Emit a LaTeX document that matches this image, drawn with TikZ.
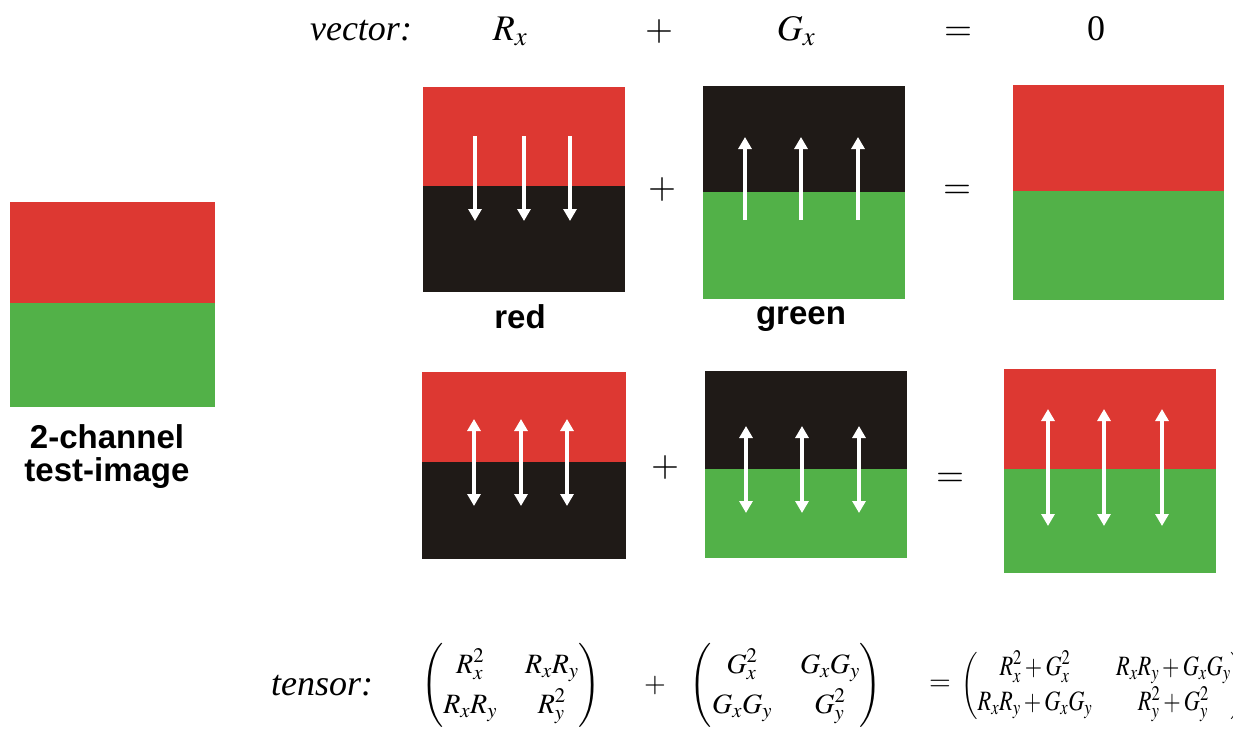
\documentclass[tikz,border=0pt]{standalone}
\usepackage{mathptmx}
\usepackage{amsmath}
\usepackage{graphicx}
\usepackage{fontspec}
\setmainfont{Liberation Serif}
\setsansfont{Liberation Sans}
\usetikzlibrary{arrows.meta}
\definecolor{pred}{HTML}{DD3832}
\definecolor{pgreen}{HTML}{52B148}
\definecolor{pblack}{HTML}{1F1A17}
\tikzset{
  lbl/.style={font=\sffamily\bfseries\fontsize{33}{38}\selectfont, anchor=base, inner sep=0pt},
  ser/.style={font=\fontsize{36}{40}\selectfont, anchor=base, inner sep=0pt},
  ten/.style={font=\fontsize{28}{32}\selectfont, inner sep=0pt},
  warr/.style={white, line width=3.2pt, -{Triangle[width=13pt,length=12pt]}},
  darr/.style={white, line width=3.2pt, {Triangle[width=13pt,length=12pt]}-{Triangle[width=13pt,length=12pt]}}
}
\begin{document}
\begin{tikzpicture}[x=1pt,y=-1pt]
\useasboundingbox (0,0) rectangle (1233,728);
% test image
\fill[pred] (10,202) rectangle (215,303);
\fill[pgreen] (10,303) rectangle (215,407);
\node[lbl] (t1) at (107,448) {2-channel};
\node[lbl] (t2) at (107,481) {test-image};
% top row
\node[ser] (vec) at (361,40) {\textit{vector:}};
\node[ser] (rx) at (510,40) {$R_x$};
\node[ser] (p0) at (659,40) {$+$};
\node[ser] (gx) at (796,40) {$G_x$};
\node[ser] (e0) at (958,40) {$=$};
\node[ser] (z0) at (1096,40) {0};
% row 1 panel 1
\fill[pred] (423,87) rectangle (625,186);
\fill[pblack] (423,186) rectangle (625,292);
\foreach \x in {475,524,570} \draw[warr] (\x,136) -- (\x,221);
\node[lbl] (red) at (520,328) {red};
\node[ser] (p1) at (662,198) {$+$};
% panel 2
\fill[pblack] (703,86) rectangle (905,192);
\fill[pgreen] (703,192) rectangle (905,299);
\foreach \x in {745,801,858} \draw[warr] (\x,220) -- (\x,137);
\node[lbl] (green) at (801,324) {green};
\node[ser] (e1) at (957,198) {$=$};
% panel 3
\fill[pred] (1013,85) rectangle (1224,191);
\fill[pgreen] (1013,191) rectangle (1224,300);
% row 2 panel 4
\fill[pred] (422,372) rectangle (626,462);
\fill[pblack] (422,462) rectangle (626,559);
\foreach \x in {474,521,567} \draw[darr] (\x,419) -- (\x,506);
\node[ser] (p2) at (665,476) {$+$};
% panel 5
\fill[pblack] (705,371) rectangle (907,469);
\fill[pgreen] (705,469) rectangle (907,558);
\foreach \x in {746,802,859} \draw[darr] (\x,426) -- (\x,513);
\node[ser] (e2) at (950,486) {$=$};
% panel 6
\fill[pred] (1004,369) rectangle (1216,469);
\fill[pgreen] (1004,469) rectangle (1216,573);
\foreach \x in {1048,1104,1162} \draw[darr] (\x,409) -- (\x,526);
% tensor row
\node[ser] (ten) at (322,695) {\textit{tensor:}};
\node[ten] (m1) at (511,685) {\renewcommand{\arraystretch}{1.25}\setlength{\arraycolsep}{14pt}$\begin{pmatrix} R_x^2 & R_xR_y\\ R_xR_y & R_y^2\end{pmatrix}$};
\node[ten] (p3) at (655,685) {$+$};
\node[ten] (m2) at (786,685) {\renewcommand{\arraystretch}{1.25}\setlength{\arraycolsep}{14pt}$\begin{pmatrix} G_x^2 & G_xG_y\\ G_xG_y & G_y^2\end{pmatrix}$};
\node[ten] (e3) at (940,685) {$=$};
\node[ten, anchor=west] (m3) at (961,686) {\scalebox{0.8}[1]{\renewcommand{\arraystretch}{1.1}\setlength{\arraycolsep}{15pt}$\begin{pmatrix} R_x^2+G_x^2 & R_xR_y+G_xG_y\\ R_xR_y+G_xG_y & R_y^2+G_y^2\end{pmatrix}$}};
\end{tikzpicture}
\end{document}
